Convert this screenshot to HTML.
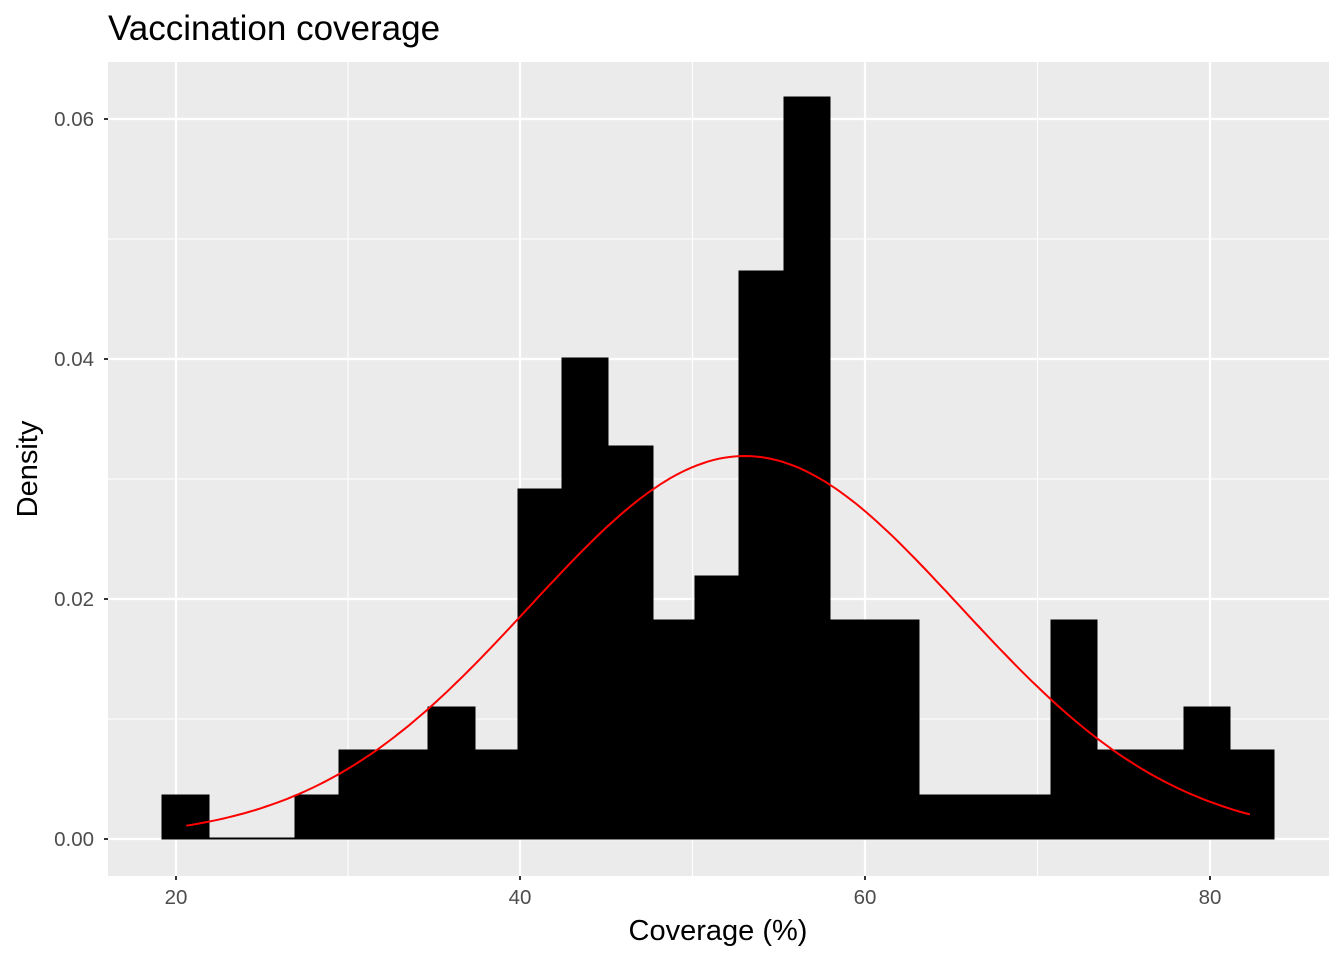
<!DOCTYPE html>
<html><head><style>body{margin:0;background:#fff}svg{display:block}</style></head>
<body>
<svg id="s" width="1344" height="960" xmlns="http://www.w3.org/2000/svg" font-family="Liberation Sans, Arial, sans-serif">
<rect x="108" y="62" width="1221" height="814" fill="#EBEBEB"/>
<g stroke="#fff" stroke-width="1.1">
<line x1="108" x2="1329" y1="719" y2="719"/><line x1="108" x2="1329" y1="479" y2="479"/><line x1="108" x2="1329" y1="239" y2="239"/>
<line y1="62" y2="876" x1="348" x2="348"/><line y1="62" y2="876" x1="692.5" x2="692.5"/><line y1="62" y2="876" x1="1037.5" x2="1037.5"/>
</g>
<g stroke="#fff" stroke-width="2.2">
<line x1="108" x2="1329" y1="839" y2="839"/><line x1="108" x2="1329" y1="599" y2="599"/><line x1="108" x2="1329" y1="359" y2="359"/><line x1="108" x2="1329" y1="119" y2="119"/>
<line y1="62" y2="876" x1="176" x2="176"/><line y1="62" y2="876" x1="520" x2="520"/><line y1="62" y2="876" x1="865" x2="865"/><line y1="62" y2="876" x1="1210" x2="1210"/>
</g>
<g id="bars" fill="#000" stroke="#000" stroke-width="1"></g>
<line x1="209" x2="295" y1="838.5" y2="838.5" stroke="#000" stroke-width="2"/>
<path id="curve" fill="none" stroke="#FF0000" stroke-width="2"/>
<g stroke="#333" stroke-width="2">
<line x1="104" x2="108" y1="839" y2="839"/><line x1="104" x2="108" y1="599" y2="599"/><line x1="104" x2="108" y1="359" y2="359"/><line x1="104" x2="108" y1="119" y2="119"/>
<line y1="876" y2="880" x1="176" x2="176"/><line y1="876" y2="880" x1="520" x2="520"/><line y1="876" y2="880" x1="865" x2="865"/><line y1="876" y2="880" x1="1210" x2="1210"/>
</g>
<g fill="#4D4D4D" font-size="20.5" text-anchor="end">
<text x="94" y="846">0.00</text><text x="94" y="606">0.02</text><text x="94" y="366">0.04</text><text x="94" y="126">0.06</text>
</g>
<g fill="#4D4D4D" font-size="20.5" text-anchor="middle">
<text x="176" y="904">20</text><text x="520" y="904">40</text><text x="865" y="904">60</text><text x="1210" y="904">80</text>
</g>
<text x="718" y="940" font-size="29" text-anchor="middle" fill="#000">Coverage (%)</text>
<text transform="translate(37,469) rotate(-90)" font-size="29" text-anchor="middle" fill="#000">Density</text>
<text x="108" y="40" font-size="35" fill="#000">Vaccination coverage</text>
</svg>
<script>
var e=[162,209,252,295,339,382,428,475,518,562,608,653,695,739,784,830,874,919,963,1007,1051,1097,1140,1184,1230,1274];
var t=[795,839,839,795,750,750,707,750,489,358,446,620,576,271,97,620,620,795,795,795,620,750,750,707,750];
var g=document.getElementById('bars'),h='';
for(var i=0;i<t.length;i++){if(t[i]<839)h+='<rect x="'+e[i]+'" y="'+t[i]+'" width="'+(e[i+1]-e[i])+'" height="'+(839-t[i])+'"/>';}
g.innerHTML=h;
var d='',mu=53.0,sd=12.5;
for(var k=0;k<=200;k++){var x=20.6+(82.3-20.6)*k/200;var y=Math.exp(-0.5*Math.pow((x-mu)/sd,2))/(sd*Math.sqrt(2*Math.PI));
var px=176+(x-20)*17.237,py=839-y*12000;d+=(k?'L':'M')+px.toFixed(1)+','+py.toFixed(1);}
document.getElementById('curve').setAttribute('d',d);
</script>
</body></html>
